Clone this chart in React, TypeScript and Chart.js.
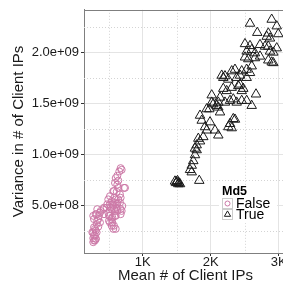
import React, { useEffect, useRef } from "react";
import { Chart, registerables } from "chart.js";

Chart.register(...registerables);

// ---- data ----
const falseX = [691, 656, 627, 641, 593, 627, 740, 641, 568, 618, 666, 519, 583, 641, 494, 544, 593, 666, 519, 568, 618, 471, 544, 593, 691, 421, 372, 323, 273, 494, 519, 593, 544, 347, 372, 519, 323, 544, 347, 298, 568, 273, 323, 298, 273, 298, 273, 313, 676, 603, 725, 578, 676, 603, 479, 553, 627, 700, 332, 382, 431, 529, 578, 627, 676, 308, 357, 431, 504, 553, 603, 676, 284, 332, 504, 553, 578, 603, 284, 308, 259, 284, 308, 284];
const falseY = [8.48e8, 8.32e8, 7.9e8, 7.42e8, 7.19e8, 7.03e8, 6.71e8, 6.71e8, 6.39e8, 6.32e8, 6.07e8, 5.9e8, 5.74e8, 5.58e8, 5.58e8, 5.42e8, 5.26e8, 5.26e8, 5.1e8, 4.94e8, 4.77e8, 4.77e8, 4.62e8, 4.45e8, 4.45e8, 4.62e8, 4.29e8, 4.13e8, 3.97e8, 4.29e8, 3.97e8, 3.97e8, 3.65e8, 3.65e8, 3.32e8, 3.32e8, 3.17e8, 3.0e8, 2.91e8, 2.69e8, 2.69e8, 2.36e8, 2.36e8, 2.04e8, 1.78e8, 1.55e8, 1.39e8, 1.72e8, 8.64e8, 7.67e8, 6.71e8, 6.39e8, 5.74e8, 5.58e8, 5.1e8, 5.1e8, 5.16e8, 4.94e8, 4.62e8, 4.45e8, 4.77e8, 4.77e8, 4.68e8, 4.45e8, 4.62e8, 4.13e8, 3.97e8, 4.13e8, 3.97e8, 3.81e8, 3.97e8, 4.13e8, 3.65e8, 3.49e8, 3.49e8, 3.32e8, 3.0e8, 2.69e8, 2.84e8, 2.52e8, 2.36e8, 2.04e8, 1.72e8, 1.55e8];

const trueX = [2897, 2578, 2971, 2685, 2847, 2824, 2872, 2994, 2504, 2578, 2725, 2799, 2847, 2603, 2529, 2651, 2921, 2971, 2504, 2553, 2651, 2725, 2847, 2897, 2921, 2603, 2162, 2185, 2309, 2357, 2456, 2529, 2578, 2431, 2382, 2529, 2259, 2431, 2406, 2185, 2235, 2309, 2479, 2456, 2015, 2137, 2666, 2015, 2112, 2210, 2284, 2332, 2382, 2456, 2529, 2603, 1979, 2112, 2137, 1843, 1868, 1916, 1990, 1941, 2063, 2112, 2357, 2284, 2259, 2309, 1891, 1818, 1843, 1794, 1769, 1794, 1769, 1744, 1721, 1696, 1721, 1500, 1524, 1549, 1832, 1475, 2038, 2088, 2210, 2332, 1941, 2872, 1490, 1512, 1530];
const trueY = [2.32e9, 2.281e9, 2.255e9, 2.191e9, 2.185e9, 2.153e9, 2.136e9, 2.178e9, 2.081e9, 2.062e9, 2.072e9, 2.056e9, 2.056e9, 2.023e9, 2.008e9, 1.991e9, 1.998e9, 2.04e9, 1.95e9, 1.933e9, 1.943e9, 1.959e9, 1.921e9, 1.901e9, 1.895e9, 1.863e9, 1.772e9, 1.75e9, 1.815e9, 1.83e9, 1.815e9, 1.83e9, 1.798e9, 1.772e9, 1.75e9, 1.75e9, 1.733e9, 1.685e9, 1.67e9, 1.643e9, 1.621e9, 1.653e9, 1.643e9, 1.621e9, 1.579e9, 1.557e9, 1.588e9, 1.508e9, 1.508e9, 1.508e9, 1.525e9, 1.54e9, 1.508e9, 1.525e9, 1.525e9, 1.476e9, 1.443e9, 1.46e9, 1.412e9, 1.38e9, 1.331e9, 1.267e9, 1.315e9, 1.235e9, 1.235e9, 1.186e9, 1.341e9, 1.299e9, 1.267e9, 1.257e9, 1.17e9, 1.154e9, 1.128e9, 1.09e9, 1.057e9, 1.042e9, 0.993e9, 0.935e9, 0.89e9, 0.848e9, 0.825e9, 0.729e9, 0.709e9, 0.709e9, 0.742e9, 0.735e9, 1.492e9, 1.476e9, 1.766e9, 1.347e9, 1.443e9, 2.008e9, 0.72e9, 0.74e9, 0.72e9];

const xTickValues = [1000, 2000, 3000];
const xTickLabels = ["1K", "2K", "3K"];
const yTickValues = [5e8, 1e9, 1.5e9, 2e9];
const yTickLabels = ["5.0e+08", "1.0e+09", "1.5e+09", "2.0e+09"];
const xMinor = [500, 1500, 2500];
const yMinor = [2.5e8, 7.5e8, 1.25e9, 1.75e9, 2.25e9];

const legendTitle = "Md5";
const legendLabels = ["False", "True"];
const xTitle = "Mean # of Client IPs";
const yTitle = "Variance in # of Client IPs";

const PINK = "#CC79A7";
const DARK = "#1a1a1a";
const FONT = '"Liberation Sans", Arial, Helvetica, sans-serif';

const extrasPlugin = {
  id: "extras",
  beforeDatasetsDraw(chart: any) {
    const { ctx, chartArea: a, scales } = chart;
    ctx.save();
    ctx.beginPath();
    ctx.rect(a.left, a.top, a.right - a.left, a.bottom - a.top);
    ctx.clip();
    ctx.strokeStyle = "#d4d4d4";
    ctx.lineWidth = 1;
    ctx.setLineDash([1, 2]);
    xMinor.forEach((v) => {
      const px = Math.round(scales.x.getPixelForValue(v)) + 0.5;
      ctx.beginPath();
      ctx.moveTo(px, a.top);
      ctx.lineTo(px, a.bottom);
      ctx.stroke();
    });
    yMinor.forEach((v) => {
      const py = Math.round(scales.y.getPixelForValue(v)) + 0.5;
      ctx.beginPath();
      ctx.moveTo(a.left, py);
      ctx.lineTo(a.right, py);
      ctx.stroke();
    });
    ctx.restore();
    // top border
    ctx.save();
    ctx.strokeStyle = "#7f7f7f";
    ctx.lineWidth = 1;
    ctx.beginPath();
    ctx.moveTo(a.left, Math.round(a.top) + 0.5);
    ctx.lineTo(a.right, Math.round(a.top) + 0.5);
    ctx.stroke();
    ctx.restore();
  },
  afterDraw(chart: any) {
    const { ctx } = chart;
    ctx.save();
    ctx.fillStyle = "#ffffff";
    ctx.fillRect(219, 185, 58, 38);
    ctx.fillStyle = "#000000";
    ctx.textBaseline = "middle";
    ctx.textAlign = "left";
    ctx.font = "bold 12.5px " + FONT;
    ctx.fillText(legendTitle, 222, 192);
    const rows = [203.5, 214.5];
    rows.forEach((cy, i) => {
      ctx.fillStyle = "#ffffff";
      ctx.strokeStyle = "#cccccc";
      ctx.lineWidth = 1;
      ctx.fillRect(222.5, cy - 5, 10, 10);
      ctx.strokeRect(222.5, cy - 5, 10, 10);
      ctx.lineWidth = 1;
      if (i === 0) {
        ctx.strokeStyle = PINK;
        ctx.beginPath();
        ctx.arc(227.5, cy, 2.5, 0, Math.PI * 2);
        ctx.stroke();
      } else {
        ctx.strokeStyle = DARK;
        const r = 3.6;
        ctx.beginPath();
        ctx.moveTo(227.5, cy - r);
        ctx.lineTo(227.5 + r * 0.866, cy + r * 0.5);
        ctx.lineTo(227.5 - r * 0.866, cy + r * 0.5);
        ctx.closePath();
        ctx.stroke();
      }
      ctx.fillStyle = "#000000";
      ctx.font = "14px " + FONT;
      ctx.fillText(legendLabels[i], 236, cy + 0.5);
    });
    ctx.restore();
  },
};

export default function App() {
  const ref = useRef<HTMLCanvasElement>(null);
  useEffect(() => {
    if (!ref.current) return;
    const chart = new Chart(ref.current, {
      type: "scatter",
      data: {
        datasets: [
          {
            label: legendLabels[0],
            data: falseX.map((x, i) => ({ x, y: falseY[i] })),
            pointStyle: "circle",
            pointRadius: 3.5,
            pointBorderWidth: 1,
            borderColor: PINK,
            backgroundColor: "rgba(0,0,0,0)",
          },
          {
            label: legendLabels[1],
            data: trueX.map((x, i) => ({ x, y: trueY[i] })),
            pointStyle: "triangle",
            pointRadius: 5.5,
            pointBorderWidth: 1,
            borderColor: DARK,
            backgroundColor: "rgba(0,0,0,0)",
          },
        ],
      },
      options: {
        animation: false,
        responsive: false,
        layout: { padding: { top: 6, left: 0, right: 33, bottom: 0 } },
        plugins: {
          legend: { display: false },
          tooltip: { enabled: false },
        },
        scales: {
          x: {
            type: "linear",
            min: 137,
            max: 3122,
            afterFit: (s: any) => {
              s.height = 33;
            },
            afterBuildTicks: (s: any) => {
              s.ticks = xTickValues.map((v) => ({ value: v }));
            },
            ticks: {
              autoSkip: false,
              maxRotation: 0,
              padding: 0,
              color: "#1a1a1a",
              font: { family: FONT, size: 13, lineHeight: 1 },
              callback: (v: any) => {
                const i = xTickValues.indexOf(Number(v));
                return i >= 0 ? xTickLabels[i] : "";
              },
            },
            grid: {
              color: "#e4e4e4",
              lineWidth: 1,
              drawTicks: true,
              tickLength: 3,
              tickColor: "#333333",
              tickWidth: 1,
            },
            border: { display: true, color: "#7f7f7f", width: 1 },
            title: {
              display: true,
              text: xTitle,
              color: "#1a1a1a",
              font: { family: FONT, size: 15, lineHeight: 1.2 },
              padding: { top: 0, bottom: 1 },
            },
          },
          y: {
            type: "linear",
            min: 3.3e7,
            max: 2.415e9,
            afterFit: (s: any) => {
              s.width = 84;
            },
            afterBuildTicks: (s: any) => {
              s.ticks = yTickValues.map((v) => ({ value: v }));
            },
            ticks: {
              autoSkip: false,
              padding: 2,
              color: "#1a1a1a",
              font: { family: FONT, size: 13 },
              callback: (v: any) => {
                const i = yTickValues.indexOf(Number(v));
                return i >= 0 ? yTickLabels[i] : "";
              },
            },
            grid: {
              color: "#e4e4e4",
              lineWidth: 1,
              drawTicks: true,
              tickLength: 3,
              tickColor: "#333333",
              tickWidth: 1,
            },
            border: { display: true, color: "#7f7f7f", width: 1 },
            title: {
              display: true,
              text: yTitle,
              color: "#1a1a1a",
              font: { family: FONT, size: 15, lineHeight: 1.2 },
              padding: { top: 10, bottom: 0 },
            },
          },
        },
      },
      plugins: [extrasPlugin],
    });
    return () => chart.destroy();
  }, []);
  return (
    <div
      style={{
        position: "fixed",
        left: 0,
        top: 0,
        width: 283,
        height: 286,
        overflow: "hidden",
        background: "#ffffff",
      }}
    >
      <canvas ref={ref} width={320} height={286} style={{ display: "block" }} />
    </div>
  );
}
